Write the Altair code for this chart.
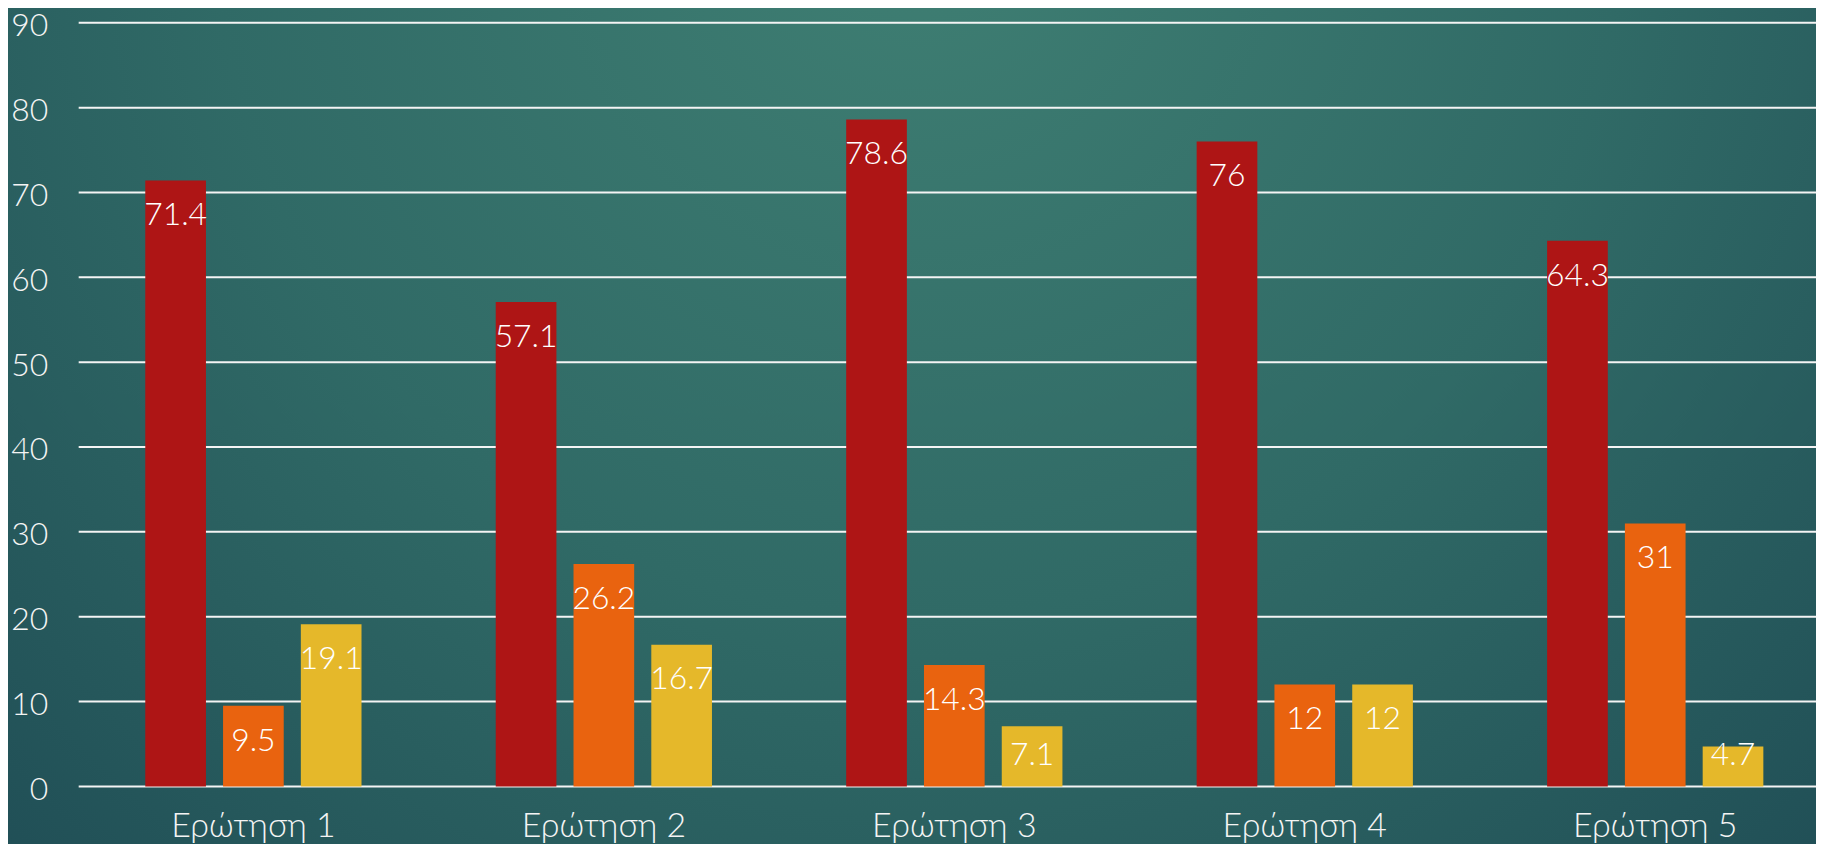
import altair as alt
import pandas as pd

categories = ["Ερώτηση 1", "Ερώτηση 2", "Ερώτηση 3", "Ερώτηση 4", "Ερώτηση 5"]
series_names = ["Σειρά 1", "Σειρά 2", "Σειρά 3"]
series1 = [71.4, 57.1, 78.6, 76, 64.3]
series2 = [9.5, 26.2, 14.3, 12, 31]
series3 = [19.1, 16.7, 7.1, 12, 4.7]
y_ticks = [0, 10, 20, 30, 40, 50, 60, 70, 80, 90]
colors = ["#AE1515", "#E9630F", "#E5B82A"]

rows = []
for name, vals in zip(series_names, [series1, series2, series3]):
    for c, v in zip(categories, vals):
        rows.append({"cat": c, "series": name, "value": v, "label": f"{v:g}"})
df = pd.DataFrame(rows)
ticks_df = pd.DataFrame({"tick": y_ticks})
bg_df = pd.DataFrame({"k": [0]})

W, H = 1745, 767
FONT = "Lato"
WEIGHT = 300

yscale = alt.Scale(domain=[0, 90], nice=False, zero=True)
xscale = alt.Scale(paddingInner=0.383, paddingOuter=0.19, range=[0, 1759])
xoff_scale = alt.Scale(paddingInner=0.22, paddingOuter=0)

yaxis = alt.Axis(values=y_ticks, ticks=False, tickSize=0, domain=False,
                 grid=False, labelFont=FONT, labelFontWeight=WEIGHT,
                 labelFontSize=32, labelColor="#F4F4F4",
                 labelPadding=31, labelOffset=3, zindex=2)

bg = alt.Chart(bg_df).mark_rect(
    color={
        "gradient": "radial",
        "x1": 0.5, "y1": 0.22, "r1": 0,
        "x2": 0.5, "y2": 0.22, "r2": 0.85,
        "stops": [
            {"offset": 0, "color": "#3F7F73"},
            {"offset": 0.45, "color": "#306A66"},
            {"offset": 1, "color": "#1A4450"},
        ],
    }
).encode(
    x=alt.value(-80), x2=alt.value(W + 20),
    y=alt.value(-20), y2=alt.value(H + 70),
)

grid = alt.Chart(ticks_df).mark_rule(color="#F4F4F4", strokeWidth=2).encode(
    y=alt.Y("tick:Q", scale=yscale, axis=yaxis, title=None),
    x=alt.value(0), x2=alt.value(W),
)

bars = alt.Chart(df).mark_bar().encode(
    x=alt.X("cat:N", sort=categories, scale=xscale, title=None,
            axis=alt.Axis(ticks=False, tickSize=0, domain=False, labelAngle=0,
                          labelFont=FONT, labelFontWeight=WEIGHT,
                          labelFontSize=34, labelColor="#F4F4F4", labelPadding=40,
                          labelBaseline="middle", grid=False, zindex=2)),
    xOffset=alt.XOffset("series:N", sort=series_names, scale=xoff_scale),
    y=alt.Y("value:Q", scale=yscale, title=None, axis=yaxis),
    color=alt.Color("series:N", sort=series_names,
                    scale=alt.Scale(domain=series_names, range=colors), legend=None),
)

text = alt.Chart(df).transform_calculate(
    pos="max(datum.value - 4.1, 3.75)"
).mark_text(baseline="middle", align="center", font=FONT, fontSize=32,
            fontWeight=WEIGHT, color="#FFFFFF").encode(
    x=alt.X("cat:N", sort=categories, scale=xscale),
    xOffset=alt.XOffset("series:N", sort=series_names, scale=xoff_scale),
    y=alt.Y("pos:Q", scale=yscale, title=None, axis=yaxis),
    text="label:N",
)

chart = alt.layer(bg, grid, bars, text).properties(
    width=W, height=H,
    padding={"left": 71, "top": 13, "right": 0, "bottom": 56},
    autosize=alt.AutoSizeParams(type="none"),
    background="#1D4A52",
).configure_view(stroke=None)

chart.save("out.html", embed_options={"renderer": "svg", "actions": False})
